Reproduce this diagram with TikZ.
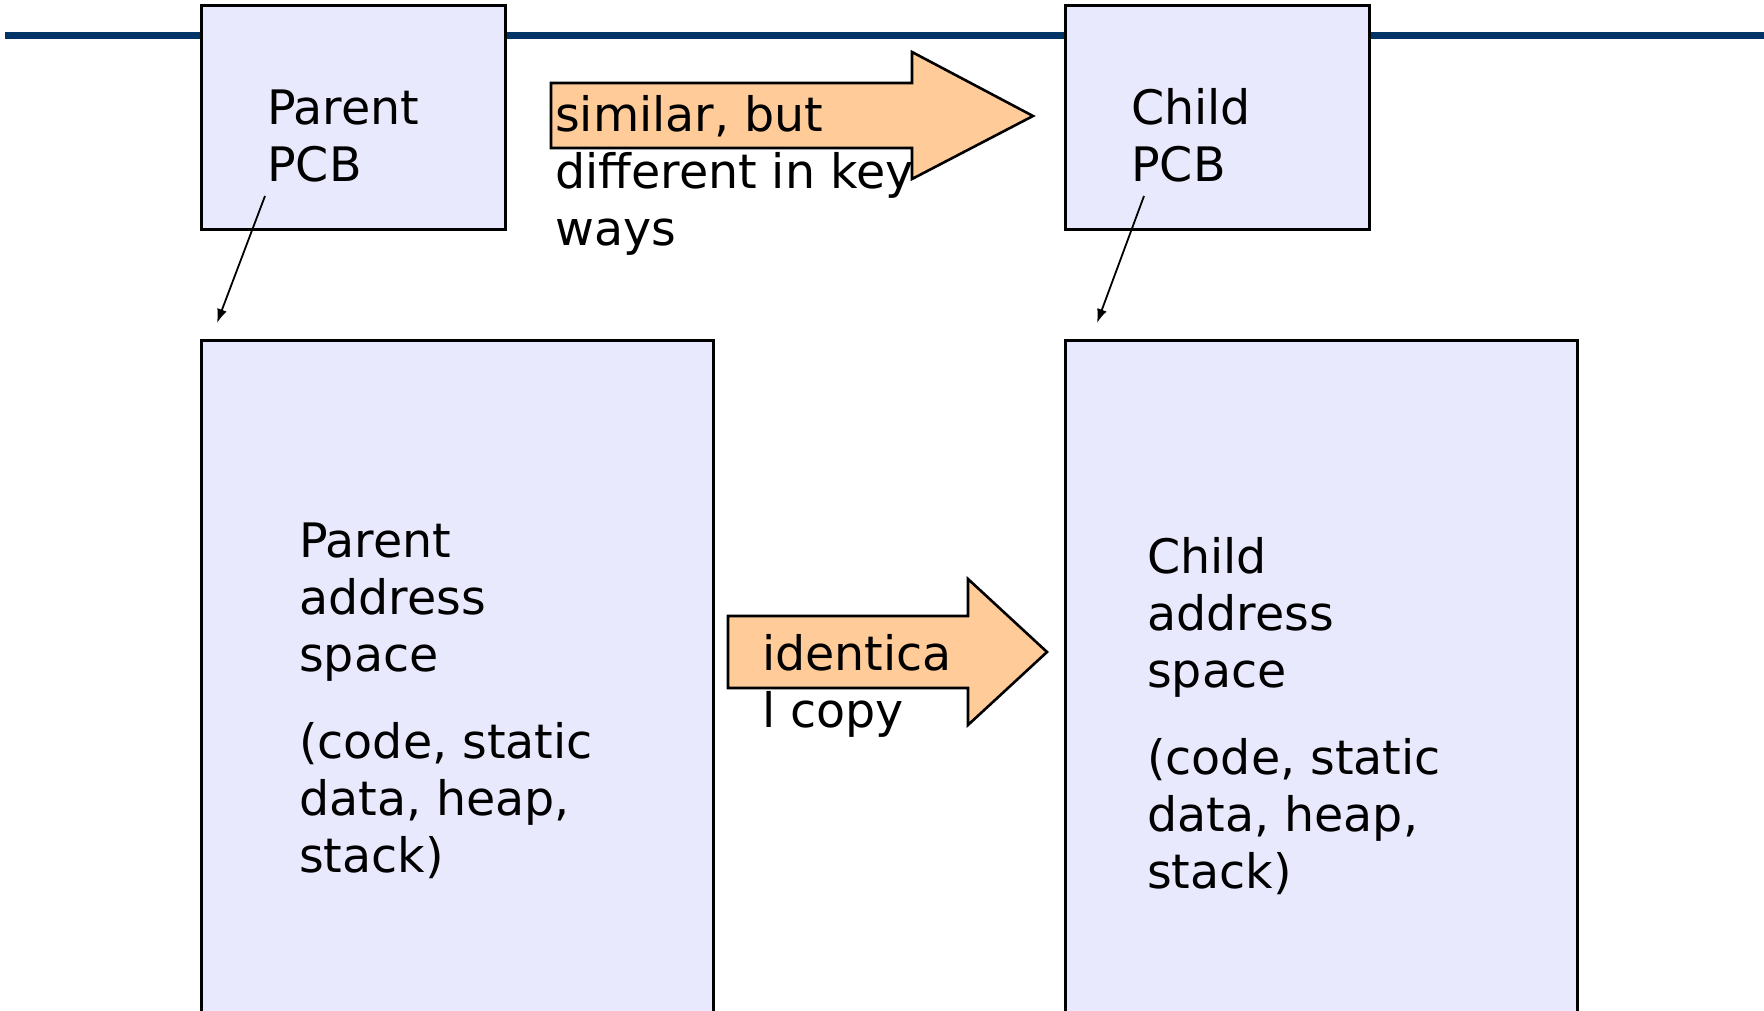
\documentclass[tikz,border=0pt]{standalone}
\usepackage{fontspec}
\setmainfont{DejaVu Sans}
\usetikzlibrary{arrows.meta}

\definecolor{boxfill}{RGB}{233,233,253}
\definecolor{arrowfill}{RGB}{255,204,153}
\definecolor{rulecolor}{RGB}{0,51,102}

\begin{document}
\begin{tikzpicture}[x=1pt,y=-1pt,
    memblock/.style={draw=black, line width=2.6pt, fill=boxfill, inner sep=0pt,
                     anchor=north west},
    bigarrow/.style={draw=black, line width=2.6pt, fill=arrowfill, line join=miter},
    txt/.style={font=\fontsize{47.5}{57}\selectfont, inner sep=0pt,
                anchor=base west, align=left},
    ptr/.style={draw=black, line width=1.8pt, -{Latex[length=14pt,width=10pt]}}]

  % canvas
  \useasboundingbox (0,0) rectangle (1764,1011);

  % header rule
  \draw[rulecolor, line width=7pt] (5,35.5) -- (1764,35.5);

  % process control blocks
  \node[memblock, minimum width=304pt, minimum height=224pt] (ppcb) at (200,4) {};
  \node[memblock, minimum width=304pt, minimum height=224pt] (cpcb) at (1064,4) {};

  % address spaces
  \node[memblock, minimum width=512pt, minimum height=673pt] (pas) at (200,339) {};
  \node[memblock, minimum width=512pt, minimum height=673pt] (cas) at (1064,339) {};

  % block arrows
  \draw[bigarrow] (551,83) -- (912,83) -- (912,52) -- (1033,116)
        -- (912,179) -- (912,148) -- (551,148) -- cycle;
  \draw[bigarrow] (728,616) -- (968,616) -- (968,579) -- (1047,652)
        -- (968,725) -- (968,688) -- (728,688) -- cycle;

  % labels (anchored at the baseline of their last line)
  \node[txt] (ppcbtxt) at (267,182) {Parent\\PCB};
  \node[txt] (cpcbtxt) at (1131,182) {Child\\PCB};
  \node[txt] (simtxt) at (555,245) {similar, but\\different in key\\ways};
  \node[txt] (pastxt) at (299,872)
        {Parent\\address\\space\\[30pt](code, static\\data, heap,\\stack)};
  \node[txt] (castxt) at (1147,888)
        {Child\\address\\space\\[30pt](code, static\\data, heap,\\stack)};
  \node[txt] (idtxt) at (762,727) {identica\\l copy};

  % pointers from PCB to address space
  \coordinate (ppcbout) at (265,196);
  \coordinate (pasin) at (217,323);
  \coordinate (cpcbout) at (1144,196);
  \coordinate (casin) at (1097,323);
  \draw[ptr] (ppcbout) -- (pasin);
  \draw[ptr] (cpcbout) -- (casin);
\end{tikzpicture}
\end{document}
